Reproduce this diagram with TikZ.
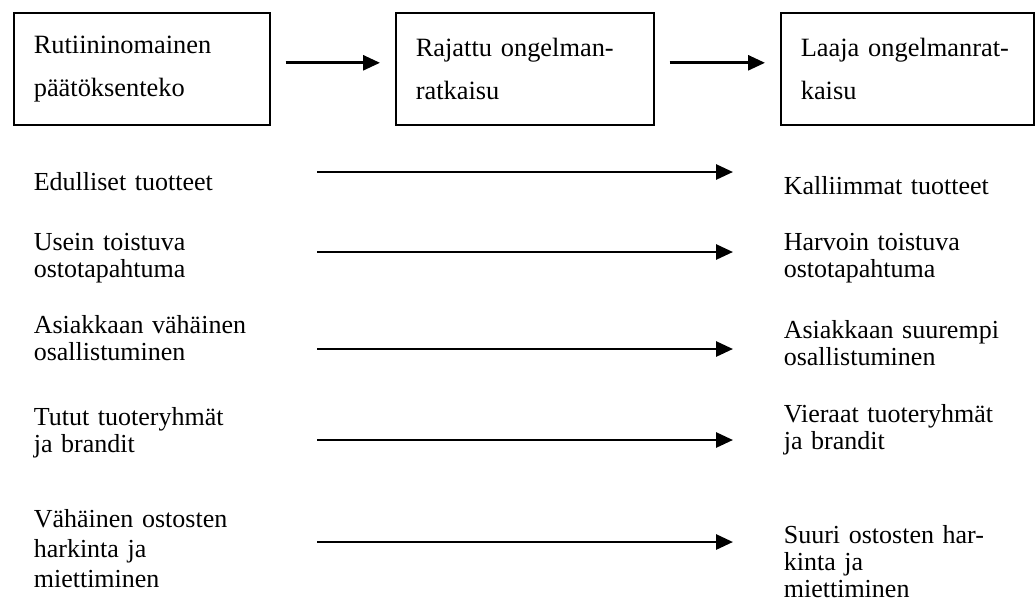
\documentclass[tikz,border=0pt]{standalone}
\usepackage{fontspec}
\setmainfont{Liberation Serif}
\usetikzlibrary{arrows.meta,positioning}

\begin{document}
\begin{tikzpicture}[x=0.5pt, y=-0.5pt, line width=0.8pt, >={Triangle[length=8.5pt, width=7.5pt]},
    stage/.style={draw, anchor=north west, minimum height=56pt, inner xsep=10pt, inner ysep=0pt, align=left, font=\fontsize{13.2}{21.5}\selectfont},
    item/.style={anchor=base west, inner sep=0pt, text width=150pt, align=left, font=\fontsize{13}{13.5}\selectfont},
    flow/.style={->, line width=1.4pt}]

    \useasboundingbox (0,0) rectangle (1036,600);

    % the three kinds of decision making
    \node[stage, minimum width=128pt, text width=108pt] (routine) at (13,12) {Rutiininomainen\\päätöksenteko};
    \node[stage, minimum width=129pt, text width=109pt] (limited) at (395,12) {Rajattu ongelman-\\ratkaisu};
    \node[stage, minimum width=126.5pt, text width=106.5pt] (extended) at (780,12) {Laaja ongelmanrat-\\kaisu};
    \draw[flow] ([shift={(7.5pt,3pt)}]routine.east) -- ([shift={(-7.5pt,3pt)}]limited.west);
    \draw[flow] ([shift={(7.5pt,3pt)}]limited.east) -- ([shift={(-7.5pt,3pt)}]extended.west);

    % left column
    \node[item] (cheap) at (33,190) {Edulliset tuotteet};
    \node[item] (often) at (33,250) {Usein toistuva\\ostotapahtuma};
    \node[item] (lowinv) at (33,333) {Asiakkaan vähäinen\\osallistuminen};
    \node[item] (known) at (33,425) {Tutut tuoteryhmät\\ja brandit};
    \node[item, font=\fontsize{13}{15}\selectfont] (littlethought) at (33,527) {Vähäinen ostosten\\harkinta ja\\miettiminen};

    % right column
    \node[item] (costly) at (783,194) {Kalliimmat tuotteet};
    \node[item] (seldom) at (783,250) {Harvoin toistuva\\ostotapahtuma};
    \node[item] (highinv) at (783,338) {Asiakkaan suurempi\\osallistuminen};
    \node[item] (unknown) at (783,422) {Vieraat tuoteryhmät\\ja brandit};
    \node[item] (muchthought) at (783,543) {Suuri ostosten har-\\kinta ja\\miettiminen};

    \foreach \y [count=\i] in {172,252,349,440,542} {
        \coordinate (from\i) at (317,\y);
        \coordinate (to\i) at (733,\y);
        \draw[flow] (from\i) -- (to\i);
    }

\end{tikzpicture}
\end{document}
